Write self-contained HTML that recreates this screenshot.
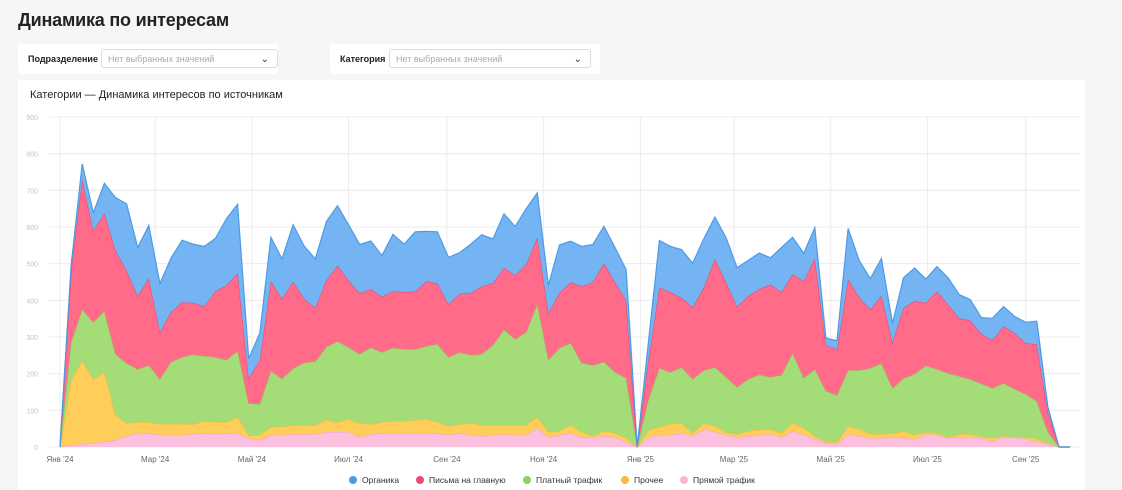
<!DOCTYPE html>
<html><head><meta charset="utf-8">
<style>
body{margin:0;width:1122px;height:490px;background:#f6f6f6;font-family:"Liberation Sans","Noto Sans CJK SC",sans-serif;overflow:hidden;position:relative}
.title{position:absolute;left:18px;top:10px;font-size:18px;color:#222;font-weight:bold;letter-spacing:-0.2px}
.filter{position:absolute;top:44px;height:30px;background:#fff;border-radius:3px}
.flabel{position:absolute;top:10px;font-size:9px;font-weight:bold;color:#222}
.sel{position:absolute;top:5px;height:19px;border:1px solid #ddd;border-radius:3px;background:#fff;font-size:9px;color:#aaa;line-height:19px;padding-left:6px;box-sizing:border-box}
.sel span.ch{position:absolute;right:8px;top:0;color:#333;font-size:10px}
.card{position:absolute;left:18px;top:80px;width:1067px;height:410px;background:#fff}
.ctitle{position:absolute;left:30px;top:89px;font-size:11px;color:#222}
</style></head><body>
<div class="title">Динамика по интересам</div>
<div class="filter" style="left:18px;width:260px">
  <div class="flabel" style="left:10px">Подразделение</div>
  <div class="sel" style="left:83px;width:177px">Нет выбранных значений<span class="ch">&#8964;</span></div>
</div>
<div class="filter" style="left:330px;width:270px">
  <div class="flabel" style="left:10px">Категория</div>
  <div class="sel" style="left:59px;width:202px">Нет выбранных значений<span class="ch">&#8964;</span></div>
</div>
<div class="card"></div>
<div class="ctitle">Категории — Динамика интересов по источникам</div>
<svg id="chart" width="1122" height="490" style="position:absolute;left:0;top:0"></svg>
<script>
const startDate = new Date(2024,0,1);
const pinkVals   =[0,5,8,11,14,19,30,38,38,33,33,33,35,38,35,38,38,24,19,33,33,35,35,35,41,41,41,27,35,38,38,38,38,38,38,33,38,33,30,33,35,33,33,52,27,33,38,27,27,30,27,14,0,27,33,33,38,30,49,41,33,27,30,33,35,27,44,33,22,11,8,35,30,24,24,27,27,19,35,33,24,27,27,24,16,27,27,22,14,8,0,0];
const yellowVals =[0,177,228,174,190,68,35,30,30,30,30,30,27,33,33,30,44,8,14,22,22,24,24,24,33,27,35,38,27,30,33,33,35,38,30,24,24,33,30,27,24,27,27,30,14,11,22,14,3,14,11,11,0,19,22,30,27,8,16,16,8,8,14,14,14,11,22,19,8,3,5,22,19,11,11,11,16,14,5,5,3,8,8,5,8,3,0,5,8,3,0,0];
const greenVals  =[0,103,139,155,166,166,163,144,155,122,169,182,190,177,177,169,180,87,84,152,131,155,171,174,199,220,196,188,209,190,199,196,193,199,212,188,196,185,193,218,261,234,253,307,196,226,223,188,193,188,166,163,0,82,160,141,152,147,144,160,150,128,141,150,141,158,190,136,182,139,128,152,160,180,193,122,144,166,182,174,174,158,150,144,136,144,131,117,103,30,0,0];
const redVals    =[0,196,356,250,267,283,253,199,237,128,136,150,141,136,180,204,212,68,120,245,218,237,174,147,182,207,182,166,160,152,155,155,158,177,166,144,160,169,185,169,169,174,185,182,128,150,166,209,226,269,245,212,0,109,220,218,190,196,226,296,258,220,226,234,253,226,215,264,302,125,125,248,199,160,185,125,193,199,171,212,188,158,160,136,131,155,152,139,155,54,0,0];
const blueVals   =[0,14,41,49,82,144,182,133,144,133,147,169,160,163,144,182,188,54,73,120,109,155,144,133,160,163,152,133,131,112,155,131,163,136,141,128,112,133,141,120,147,133,152,122,76,131,112,109,103,101,95,84,0,46,128,125,131,120,133,114,122,106,98,98,73,122,101,76,84,19,24,139,101,84,101,52,82,90,65,68,73,65,57,44,60,54,46,57,63,14,0,0];
const yTicks=[0,100,200,300,400,500,600,700,800,900];
const xTickDates=[[2024,0],[2024,2],[2024,4],[2024,6],[2024,8],[2024,10],[2025,0],[2025,2],[2025,4],[2025,6],[2025,8]];
const monthNames=["Янв","Фев","Мар","Апр","Май","Июн","Июл","Авг","Сен","Окт","Ноя","Дек"];
const seriesNames=["Органика","Письма на главную","Платный трафик","Прочее","Прямой трафик"];

const svg=document.getElementById('chart');
const NS='http://www.w3.org/2000/svg';
const X0=60, PXDAY=11.1/7, Y0=447, PXU=330/900;
const dayMs=86400000;
function xDate(d){return X0+((d-startDate)/dayMs)*PXDAY;}
function xIdx(i){return X0+i*7*PXDAY;}
function yv(v){return Y0-v*PXU;}
function mk(tag,attrs){const e=document.createElementNS(NS,tag);for(const k in attrs)e.setAttribute(k,attrs[k]);svg.appendChild(e);return e;}

yTicks.forEach(t=>{
  const l=mk('line',{x1:49,x2:1080,y1:yv(t),y2:yv(t),stroke:'#ececec','stroke-width':1});
  
  
  const tx=mk('text',{x:38,y:yv(t)+3,'text-anchor':'end','font-size':7,fill:'#c4c4c4'});
  tx.textContent=t;
  
  
});
xTickDates.forEach(([y,m])=>{
  const d=new Date(y,m,1);const x=xDate(d);
  const l=mk('line',{x1:x,x2:x,y1:116,y2:447,stroke:'#ececec','stroke-width':1});
  
  
  const tx=mk('text',{x:x,y:462,'text-anchor':'middle','font-size':8,fill:'#666'});
  tx.textContent=monthNames[m]+" '"+String(y).slice(2);
  
  
});

const stack=[pinkVals,yellowVals,greenVals,redVals,blueVals];
const fills=['#fcc0df','#ffcd5a','#a4dd78','#ff6b88','#74b4f2'];
const strokes=['#f6a6cf','#f7bd3a','#8fd062','#ec4a70','#4c9ae6'];
const names=['area-direct-traffic','area-other','area-paid-traffic','area-emails','area-organic'];
const n=pinkVals.length;
let base=new Array(n).fill(0);
stack.forEach((vals,s)=>{
  const top=vals.map((v,i)=>base[i]+v);
  let d='M'+xIdx(0)+','+yv(top[0]);
  for(let i=1;i<n;i++)d+=' L'+xIdx(i).toFixed(1)+','+yv(top[i]).toFixed(1);
  for(let i=n-1;i>=0;i--)d+=' L'+xIdx(i).toFixed(1)+','+yv(base[i]).toFixed(1);
  d+='Z';
  const p=mk('path',{d:d,fill:fills[s],stroke:'none'});
  
  
  let ld='M'+xIdx(0)+','+yv(top[0]);
  for(let i=1;i<n;i++)ld+=' L'+xIdx(i).toFixed(1)+','+yv(top[i]).toFixed(1);
  const l=mk('path',{d:ld,fill:'none',stroke:strokes[s],'stroke-width':1.2});
  
  
  base=top;
});

const legX=[353,420,527,625,684];
const legCol=['#4c9ae6','#ec4a70','#8fd062','#f7bd3a','#fcb6da'];
seriesNames.forEach((nm,i)=>{
  const c=mk('circle',{cx:legX[i],cy:480,r:4,fill:legCol[i]});
  
  
  const t=mk('text',{x:legX[i]+9,y:483,'font-size':8.5,fill:'#333'});
  t.textContent=nm;
  
  
});
</script>
</body></html>
